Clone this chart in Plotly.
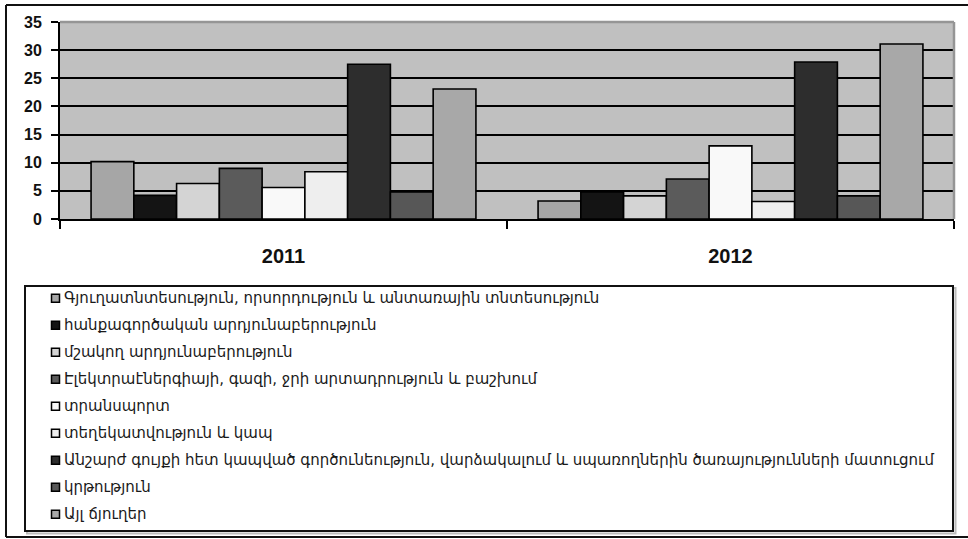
import plotly.graph_objects as go

categories = ["2011", "2012"]
series_names = [
    "Գյուղատնտեսություն, որսորդություն և անտառային տնտեսություն",
    "հանքագործական արդյունաբերություն",
    "մշակող արդյունաբերություն",
    "Էլեկտրաէներգիայի, գազի, ջրի արտադրություն և բաշխում",
    "տրանսպորտ",
    "տեղեկատվություն և կապ",
    "Անշարժ գույքի հետ կապված գործունեություն, վարձակալում և սպառողներին ծառայությունների մատուցում",
    "կրթություն",
    "Այլ ճյուղեր",
]
values_2011 = [10.2, 4.2, 6.3, 9.0, 5.6, 8.4, 27.5, 4.8, 23.1]
values_2012 = [3.2, 4.8, 4.1, 7.1, 13.0, 3.1, 27.9, 4.1, 31.1]
series_colors = ["#a6a6a6", "#141414", "#d4d4d4", "#5b5b5b", "#f9f9f9",
                 "#eeeeee", "#2d2d2d", "#575757", "#a8a8a8"]
y_ticks = [0, 5, 10, 15, 20, 25, 30, 35]

W, H = 968, 539


def px(x):
    return x / W


def py(y):
    return 1 - y / H


fig = go.Figure()
for i, name in enumerate(series_names):
    fig.add_trace(go.Bar(
        name=name,
        x=categories,
        y=[values_2011[i], values_2012[i]],
        marker=dict(color=series_colors[i], line=dict(color="#000000", width=1.6)),
        showlegend=False,
    ))

shapes = []
frame = dict(color="#111111", width=2)
# outer frame (left, top, bottom; right side lies outside the picture)
shapes.append(dict(type="line", xref="paper", yref="paper",
                   x0=px(6), x1=px(6), y0=py(537), y1=py(5), line=frame))
shapes.append(dict(type="line", xref="paper", yref="paper",
                   x0=px(6), x1=1, y0=py(5), y1=py(5), line=frame))
shapes.append(dict(type="line", xref="paper", yref="paper",
                   x0=px(6), x1=1, y0=py(537), y1=py(537), line=frame))
# plot top/right border (gray)
shapes.append(dict(type="line", xref="x domain", yref="y domain",
                   x0=0, x1=1, y0=1, y1=1, line=dict(color="#959595", width=2.5)))
shapes.append(dict(type="line", xref="x domain", yref="y domain",
                   x0=1, x1=1, y0=0, y1=1, line=dict(color="#959595", width=2.5)))
# legend box shadow and box
shapes.append(dict(type="rect", xref="paper", yref="paper",
                   x0=px(27), x1=px(955.5), y0=py(533.5), y1=py(288),
                   line=dict(color="#bbbbbb", width=2)))
shapes.append(dict(type="rect", xref="paper", yref="paper",
                   x0=px(25), x1=px(953), y0=py(531), y1=py(286),
                   fillcolor="#ffffff",
                   line=dict(color="#111111", width=2)))

annotations = []
first_y = 298.3
step = 27.0
sq = 8
for i, name in enumerate(series_names):
    cy = first_y + i * step
    shapes.append(dict(type="rect", xref="paper", yref="paper",
                       x0=px(51.5), x1=px(51.5 + sq),
                       y0=py(cy + sq / 2), y1=py(cy - sq / 2),
                       fillcolor=series_colors[i],
                       line=dict(color="#000000", width=1.5)))
    annotations.append(dict(xref="paper", yref="paper", x=px(62), y=py(cy),
                            xanchor="left", yanchor="middle", showarrow=False,
                            text=name,
                            font=dict(family="DejaVu Sans", size=15, color="#1a1a1a")))

fig.update_layout(
    width=W, height=H,
    margin=dict(l=0, r=0, t=0, b=0, pad=0),
    paper_bgcolor="#ffffff",
    plot_bgcolor="#c0c0c0",
    barmode="group",
    bargap=0.139,
    bargroupgap=0,
    showlegend=False,
    shapes=shapes,
    annotations=annotations,
    xaxis=dict(
        domain=[px(60), px(954)],
        type="category",
        automargin=False,
        showline=True, linecolor="#000000", linewidth=2,
        ticks="outside", tickson="boundaries", ticklen=8, tickwidth=2, tickcolor="#000000",
        showgrid=False,
        tickfont=dict(family="Liberation Sans", size=20, color="#111111", weight="bold"),
        ticklabelstandoff=18,
    ),
    yaxis=dict(
        domain=[py(219), py(22)],
        range=[0, 35],
        tickvals=y_ticks,
        automargin=False,
        showline=True, linecolor="#000000", linewidth=2,
        ticks="outside", ticklen=7, tickwidth=2, tickcolor="#000000",
        showgrid=True, gridcolor="#000000", gridwidth=2,
        zeroline=False,
        tickfont=dict(family="Liberation Sans", size=16, color="#111111", weight="bold"),
        ticklabelstandoff=6,
    ),
)

fig.write_html(
    "out.html",
    config={"displayModeBar": False},
    post_script="document.body.style.margin='0';document.body.style.overflow='hidden';",
)
